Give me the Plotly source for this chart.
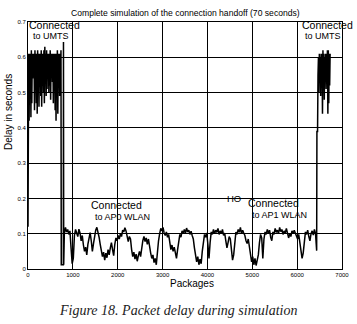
import plotly.graph_objects as go

# ---------------- data ----------------
# UMTS period at the start: packets 5..735, alternating low / high delay (s)
umts_left_start = 5
umts_left_step = 20
umts_left_low = [0.50, 0.42, 0.55, 0.43, 0.47, 0.54, 0.56, 0.45, 0.53, 0.47,
                 0.44, 0.52, 0.46, 0.55, 0.49, 0.46, 0.53, 0.50, 0.47, 0.54,
                 0.49, 0.51, 0.55, 0.50, 0.52, 0.48, 0.56, 0.53, 0.47, 0.55,
                 0.45, 0.42, 0.52, 0.44, 0.55, 0.49, 0.54]
umts_left_high = [0.61, 0.61, 0.61, 0.62, 0.61, 0.61, 0.61, 0.62, 0.61, 0.61,
                  0.62, 0.61, 0.61, 0.61, 0.62, 0.61, 0.61, 0.62, 0.63, 0.61,
                  0.62, 0.61, 0.61, 0.61, 0.62, 0.61, 0.61, 0.61, 0.61, 0.61,
                  0.61, 0.61, 0.62, 0.61, 0.61, 0.61, 0.62]

# first packet and the handoff from UMTS to AP0 WLAN
start_packet = [0]
start_delay = [0.12]
handoff1_packets = [742, 788, 791, 796]
handoff1_delay = [0.012, 0.012, 0.643, 0.012]

# WLAN period (AP0 then AP1): packets 810..6435, step 25
wlan_start = 810
wlan_step = 25
wlan_delay = [
    0.100, 0.118, 0.105, 0.112, 0.098, 0.108, 0.060, 0.015, 0.030, 0.095,
    0.112, 0.100, 0.092, 0.113, 0.102, 0.080, 0.095, 0.068, 0.050, 0.062,
    0.040, 0.070, 0.092, 0.103, 0.080, 0.050, 0.072, 0.098, 0.110, 0.118,
    0.105, 0.090, 0.070, 0.052, 0.035, 0.048, 0.025, 0.045, 0.032, 0.055,
    0.040, 0.060, 0.075, 0.055, 0.038, 0.070, 0.088, 0.080, 0.095, 0.085,
    0.100, 0.092, 0.110, 0.105, 0.117, 0.108, 0.095, 0.078, 0.092, 0.085,
    0.055, 0.035, 0.048, 0.028, 0.042, 0.022, 0.038, 0.050, 0.035, 0.062,
    0.080, 0.092, 0.078, 0.088, 0.070, 0.085, 0.060, 0.045, 0.030, 0.040,
    0.018, 0.030, 0.012, 0.050, 0.080, 0.100, 0.115, 0.108, 0.118, 0.102,
    0.095, 0.105, 0.090, 0.098, 0.070, 0.055, 0.068, 0.050, 0.062, 0.045,
    0.030, 0.055, 0.080, 0.098, 0.090, 0.108, 0.100, 0.112, 0.102, 0.116,
    0.105, 0.110, 0.098, 0.107, 0.095, 0.085, 0.060, 0.040, 0.020, 0.035,
    0.012, 0.028, 0.015, 0.050, 0.085, 0.098, 0.090, 0.102, 0.070, 0.030,
    0.075, 0.105, 0.098, 0.112, 0.100, 0.110, 0.104, 0.115, 0.098, 0.108,
    0.100, 0.112, 0.095, 0.102, 0.080, 0.060, 0.075, 0.092, 0.085, 0.055,
    0.025, 0.040, 0.080, 0.105, 0.098, 0.112, 0.104, 0.118, 0.100, 0.110,
    0.102, 0.095, 0.080, 0.072, 0.085, 0.065, 0.040, 0.020, 0.035, 0.012,
    0.030, 0.010, 0.025, 0.040, 0.075, 0.098, 0.088, 0.030, 0.085, 0.105,
    0.098, 0.112, 0.102, 0.110, 0.090, 0.080, 0.105, 0.098, 0.115, 0.104,
    0.110, 0.100, 0.118, 0.106, 0.112, 0.098, 0.108, 0.102, 0.115, 0.095,
    0.088, 0.100, 0.092, 0.108, 0.100, 0.110, 0.102, 0.095, 0.085, 0.098,
    0.075, 0.050, 0.030, 0.045, 0.080, 0.105, 0.098, 0.110, 0.092, 0.080,
    0.100, 0.108, 0.096, 0.112, 0.100, 0.052,
]

# handoff from AP1 WLAN back to UMTS
handoff2_packets = [6441, 6455]
handoff2_delay = [0.39, 0.39]

# UMTS period at the end: packets 6465..6735
umts_right_start = 6465
umts_right_step = 20
umts_right_low = [0.55, 0.50, 0.53, 0.49, 0.54, 0.44, 0.52, 0.48, 0.55, 0.51,
                  0.53, 0.44, 0.47, 0.52]
umts_right_high = [0.60, 0.61, 0.60, 0.61, 0.61, 0.62, 0.61, 0.60, 0.61, 0.61,
                   0.62, 0.62, 0.61, 0.61]

x_ticks = [0, 1000, 2000, 3000, 4000, 5000, 6000, 7000]
y_ticks = [0, 0.1, 0.2, 0.3, 0.4, 0.5, 0.6, 0.7]

# ---------------- assemble the series ----------------
def block(start, step, lows, highs):
    xs, ys = [], []
    for i, (lo, hi) in enumerate(zip(lows, highs)):
        xs += [start + step * i, start + step * i + step / 2]
        ys += [lo, hi]
    return xs, ys

packets, delay = [], []
packets += start_packet
delay += start_delay
bx, by = block(umts_left_start, umts_left_step, umts_left_low, umts_left_high)
packets += bx
delay += by
packets += handoff1_packets
delay += handoff1_delay
packets += [wlan_start + wlan_step * i for i in range(len(wlan_delay))]
delay += wlan_delay
packets += handoff2_packets
delay += handoff2_delay
bx, by = block(umts_right_start, umts_right_step, umts_right_low, umts_right_high)
packets += bx
delay += by

fig = go.Figure()
fig.add_trace(go.Scatter(x=packets, y=delay, mode="lines",
                         line=dict(color="black", width=1.5),
                         hoverinfo="skip", showlegend=False))

W, H = 357, 324
ML, MR, MT, MB = 28, 15, 22, 55
PW, PH = W - ML - MR, H - MT - MB


def px(xp):
    return (xp - ML) / PW


def py(yp):
    return (MT + PH - yp) / PH


sans = "Liberation Sans, Arial, sans-serif"
ann = []


def text(t, x, y, size=10.5, xanchor="left", yanchor="middle", angle=0,
         family=sans, color="black", style="normal"):
    ann.append(dict(text=t, x=px(x), y=py(y), xref="paper", yref="paper",
                    xanchor=xanchor, yanchor=yanchor, showarrow=False,
                    textangle=angle, borderpad=0,
                    font=dict(size=size, family=family, color=color, style=style)))


text("Complete simulation of the connection handoff (70 seconds)", 185, 13,
     size=8.6, xanchor="center")
text("Connected", 28, 25)
text("to UMTS", 32, 36, size=9)
text("Connected", 301, 25)
text("to UMTS", 304, 36, size=9)
text("Connected", 90, 205)
text("to AP0 WLAN", 94, 217, size=9)
text("HO", 226, 198, size=9.5)
text("Connected", 247, 203)
text("to AP1 WLAN", 251, 215, size=9)
text("Packages", 191.5, 283, size=10, xanchor="center")
text("Delay in seconds", 8, 112, size=10, xanchor="center", angle=-90)
text("Figure 18. Packet delay during simulation", 178, 310, size=14,
     xanchor="center", family="Liberation Serif, Times New Roman, serif",
     color="#222222", style="italic")

axis_common = dict(showgrid=True, gridcolor="black", gridwidth=1,
                   showline=True, linecolor="black", linewidth=1, mirror=True,
                   zeroline=False, ticks="", automargin=False,
                   tickfont=dict(size=6, family=sans, color="black"))

fig.update_layout(
    width=W, height=H, autosize=False,
    margin=dict(l=ML, r=MR, t=MT, b=MB, autoexpand=False),
    paper_bgcolor="white", plot_bgcolor="white",
    xaxis=dict(range=[0, 7000], tickvals=x_ticks, **axis_common),
    yaxis=dict(range=[0, 0.7], tickvals=y_ticks, **axis_common),
    annotations=ann,
)

fig.write_html("out.html",
               config={"displayModeBar": False, "staticPlot": True},
               post_script="document.body.style.margin='0';"
                           "document.body.style.overflow='hidden';")
